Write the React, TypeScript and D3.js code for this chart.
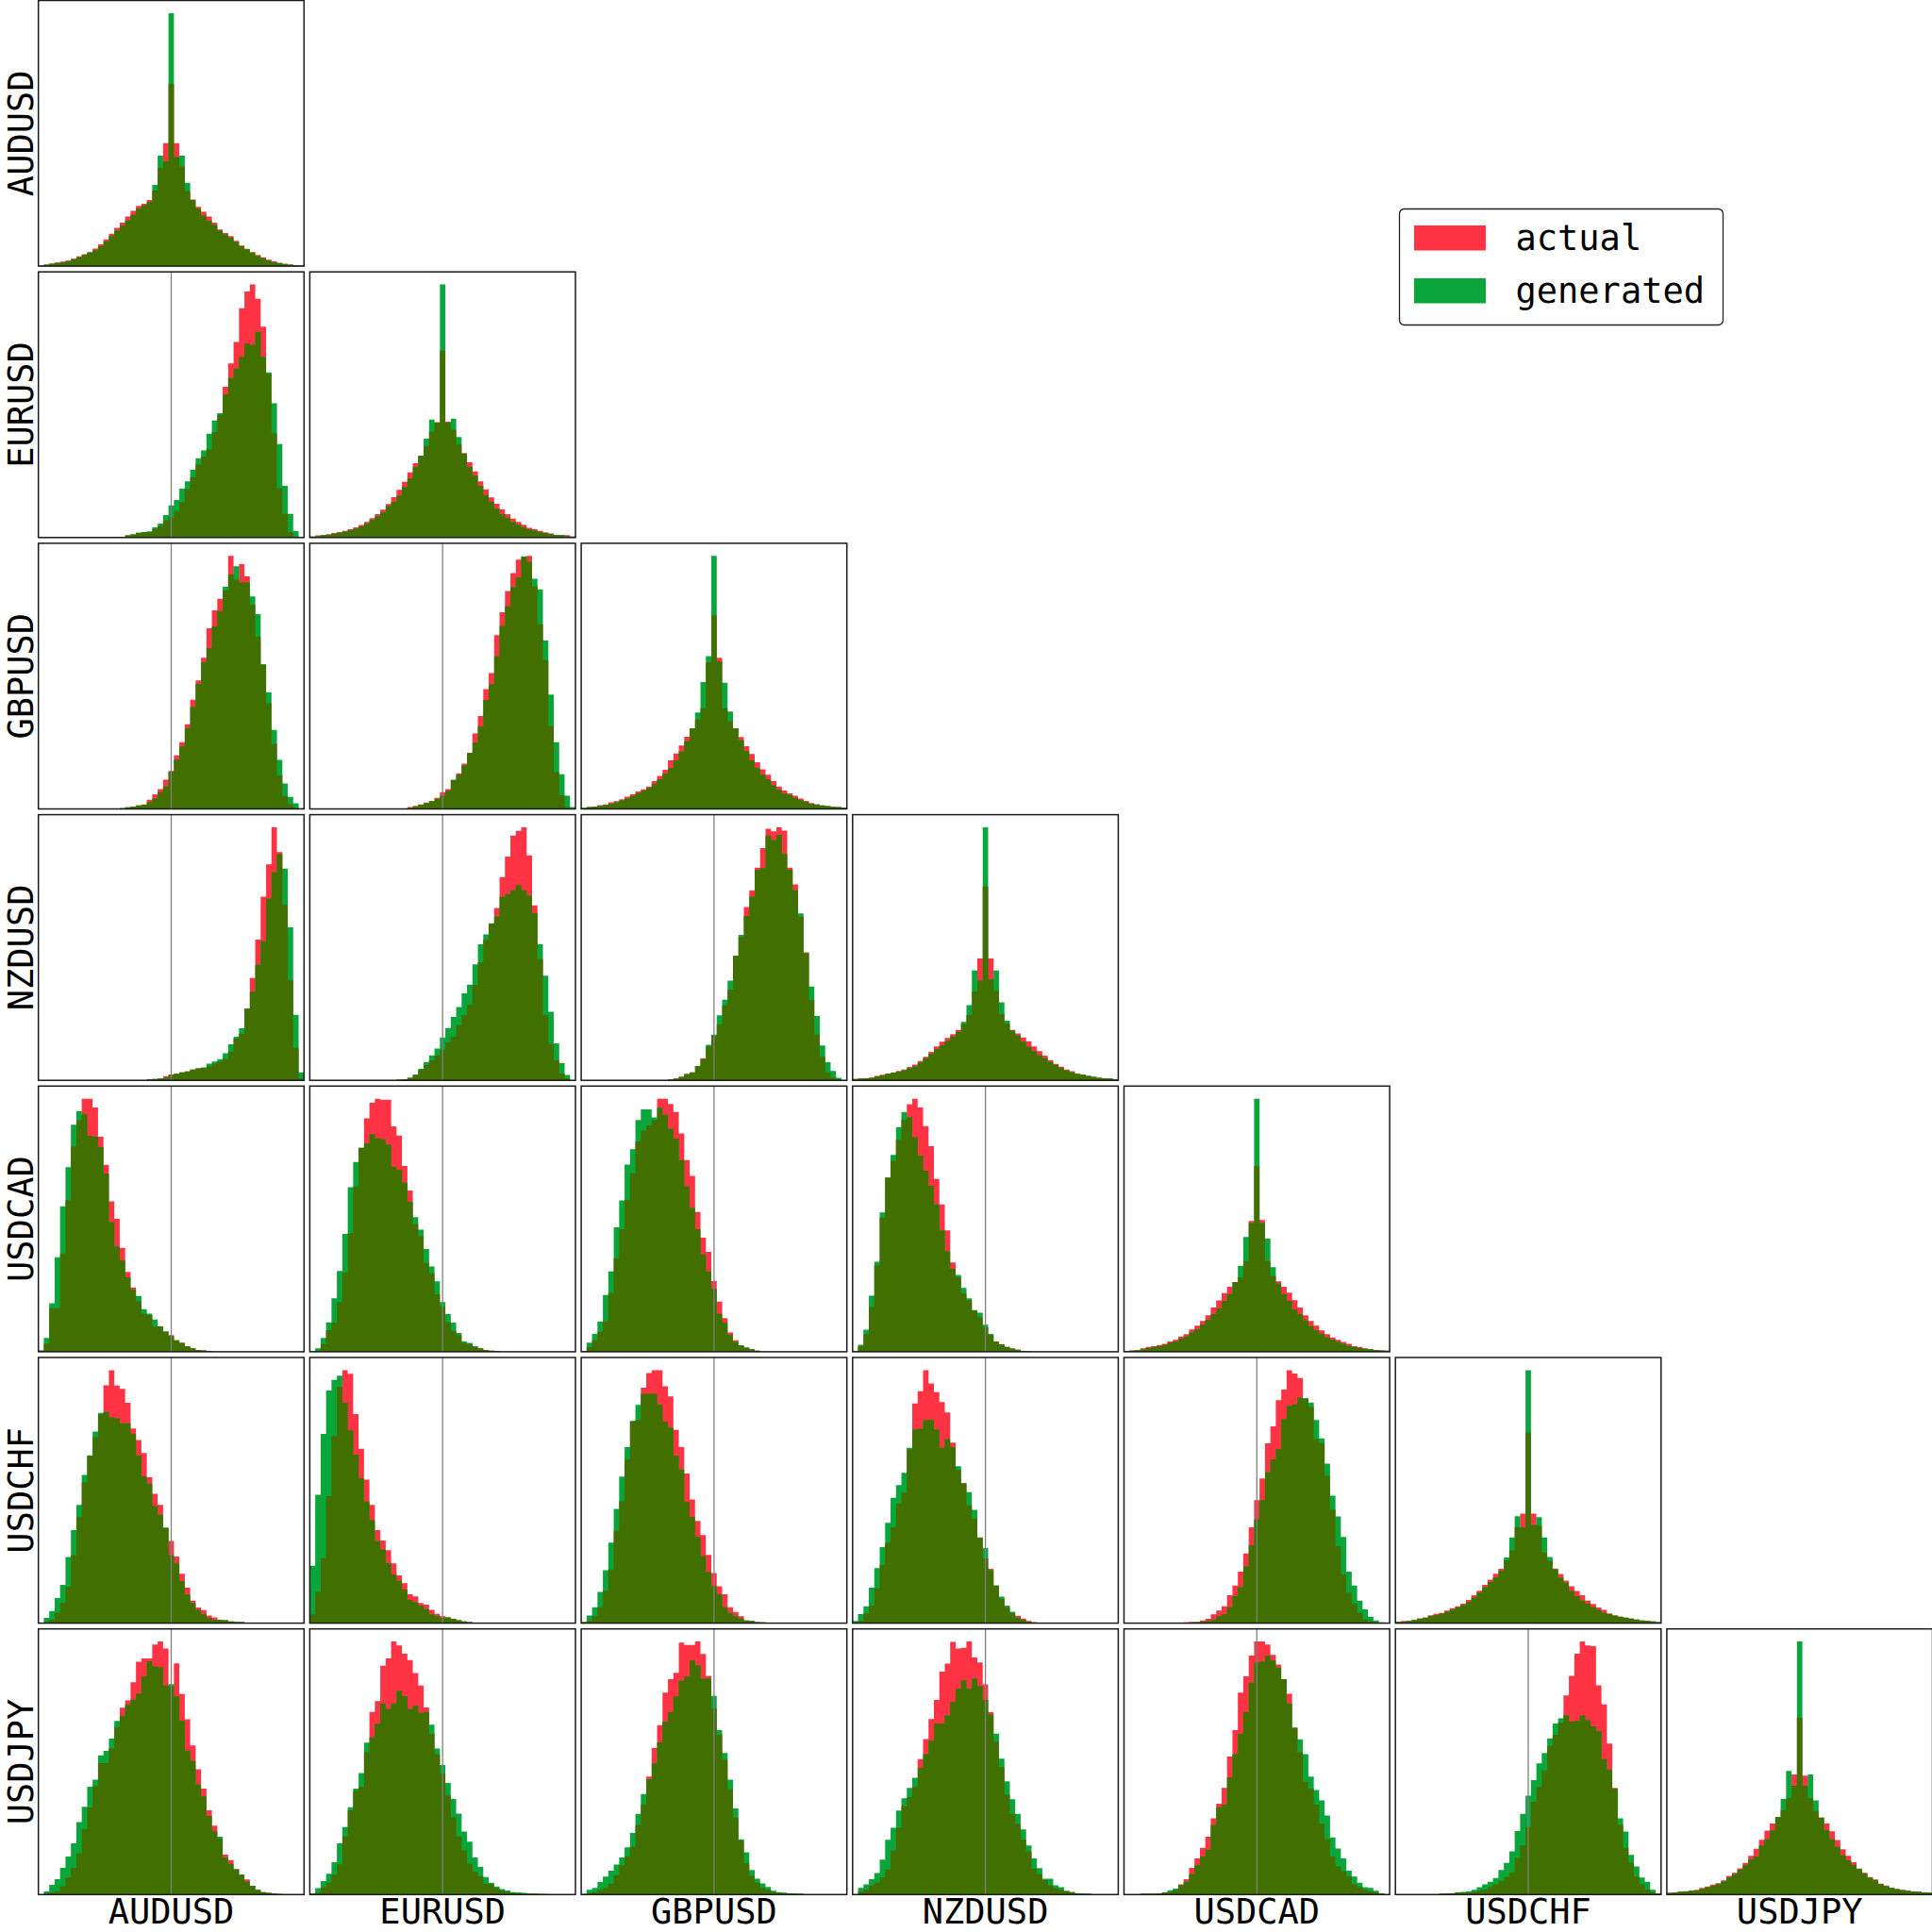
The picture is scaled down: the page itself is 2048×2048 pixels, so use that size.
import { useEffect, useRef } from 'react';
import * as d3 from 'd3';

// currency pairs, in grid order (rows top -> bottom, columns left -> right)
const PAIRS = ['AUDUSD', 'EURUSD', 'GBPUSD', 'NZDUSD', 'USDCAD', 'USDCHF', 'USDJPY'];
const SERIES = ['actual', 'generated'];
const BIN_COUNT = 49;

const COLORS: Record<string, string> = {
  actual: '#ff3344',
  generated: '#0aa63c',
  overlap: '#427000',
};

// bin heights (share of the panel height, %)
const AUDUSD_AUDUSD_actual = [0.2,0.6,0.9,1.3,1.7,2.1,2.8,3.7,4.5,5.3,6.6,8.2,10.1,12.2,14.4,16.4,18.7,20.8,22.7,23.5,24.9,28.5,36.9,46.3,68.6,46.3,37.5,28.2,25.1,22.3,20.5,18.7,16.4,13.8,12.5,11.3,9.5,7.8,6.5,5.3,4.2,3.3,2.4,1.8,1.2,0.8,0.6,0.4,0.2];
const AUDUSD_AUDUSD_generated = [0.2,0.6,0.9,1.3,1.4,1.9,2.6,3.3,4.2,5.1,6,7.5,9.3,11.3,13.4,15.3,17.2,19.3,21.7,22.9,24.1,30.6,41.6,39.5,95.3,41,41.6,31.4,24.9,21.7,19,17,15.5,13.4,11.9,10.8,9.1,7.5,6.3,5.1,3.8,3,2,1.4,1.2,0.8,0.6,0.4,0.2];

const EURUSD_AUDUSD_actual = [0,0,0,0,0,0,0,0,0,0,0,0,0,0,0.2,0.2,0.8,1.1,1.7,2.1,2,3.2,4.4,6.4,7.6,10,13.3,18.2,22.7,27.5,30.5,33.2,39.7,46.2,56.8,65.6,73.7,86.4,92.7,95.3,89.9,79.4,61.6,39.3,18.6,8.9,2,0.4,0.2];
const EURUSD_AUDUSD_generated = [0,0,0,0,0,0,0,0,0,0,0,0,0,0,0.2,0.2,0.8,1.3,1.9,2.1,2.3,3.8,5.3,8.5,12.1,14.1,18.4,21.2,25.5,29.9,32.8,39.1,44.1,46.8,53.9,60.1,63.6,68,73.1,72.5,77.5,68,62.2,50.6,35.2,19.5,8.9,2.4,0.2];
const EURUSD_EURUSD_actual = [0.4,0.8,0.9,1.3,1.7,2.1,2.5,3.1,3.8,4.7,5.9,7.3,8.8,10.5,12.6,15.2,18,21,24.5,28,30.8,34.5,39.8,43.5,70.4,43.6,40.5,35.1,31.8,28.4,24.9,21.2,18.1,15.1,12.7,10.6,8.8,7.1,5.9,4.8,3.7,3.1,2.5,2,1.4,1,0.9,0.9,0.4];
const EURUSD_EURUSD_generated = [0.4,0.5,0.9,1,1.4,1.8,2.2,2.8,3.3,4.2,5.2,6.6,7.9,9.4,11.8,13.4,15.7,19,22.3,26.5,30.8,37.2,44.4,43.3,95.3,43.3,44.8,37.9,31.5,26.6,23.3,19.4,16,13.4,10.9,8.8,7.5,5.9,4.8,3.8,3.1,2.6,2.1,1.7,1.4,1,0.9,0.5,0.4];

const GBPUSD_AUDUSD_actual = [0,0,0,0,0,0,0,0,0,0,0,0,0,0,0.1,0.3,0.5,0.9,1.3,1.7,3.5,5.5,7.5,11,14.3,20.2,25.2,32,41.2,48.5,57.1,68.2,75,79.3,82.4,95.5,86.5,92.4,87.8,77.1,65.1,54.3,39.8,24.5,12.7,4.8,1.7,0.4,0.1];
const GBPUSD_AUDUSD_generated = [0,0,0,0,0,0,0,0,0,0,0,0,0,0,0.1,0.3,0.7,0.9,1.3,1.6,2.6,3.9,6.3,8.5,14.1,18.6,23.6,30.5,38.5,47.2,55.4,60.7,68.9,74.7,83.9,88.5,91.6,85.5,85.5,80.2,73.5,54.7,44,29.8,18.5,9.6,4.5,2.1,0.3];
const GBPUSD_EURUSD_actual = [0,0,0,0,0,0,0,0,0,0,0,0,0,0,0,0,0,0.1,0.7,1.2,1.7,2.4,2.9,4.2,6.3,7.5,10.9,13.4,17.1,21.2,28.5,35,45.2,51.2,65.5,74.2,82.2,88.9,94,95,95.4,83.9,69.6,56.1,31.3,13.9,5.2,0.7,0.1];
const GBPUSD_EURUSD_generated = [0,0,0,0,0,0,0,0,0,0,0,0,0,0,0,0,0,0.1,0.4,0.9,1.6,2.2,2.9,3.7,5,6.8,10.9,12.8,16.4,21.2,25.1,31.1,41.1,47,57.5,69,76.4,83.6,87.3,95.2,93.2,86.8,82.8,63.5,43.1,25.2,13.1,5,0.7];
const GBPUSD_GBPUSD_actual = [0.4,0.7,0.9,1.4,1.7,2.5,2.9,3.7,4.6,5.5,6.6,7.4,8.5,10.5,12.5,14.8,18.4,21,24,27.3,30.5,33.8,38.1,55.5,73.2,57.2,38.1,33.2,30.5,27.2,23.7,20.8,17.7,15,12.9,10.5,8.5,7,5.9,5,3.9,3,2.2,1.7,1.3,1.1,0.8,0.7,0.5];
const GBPUSD_GBPUSD_generated = [0.4,0.7,0.9,1.2,1.4,2,2.5,3.2,3.9,4.9,5.9,6.8,7.9,9.5,11.2,13.4,15.5,18.4,21.7,25.6,30.5,36.5,48,57.8,95.7,55.8,47.7,36.8,30.5,26,21.9,18.4,15.4,12.9,11.2,8.9,7.2,5.9,5.3,4.2,3.3,2.6,2,1.7,1.3,1.1,0.8,0.7,0.5];

const NZDUSD_AUDUSD_actual = [0,0,0,0,0,0,0,0,0,0,0,0,0,0,0,0,0,0,0,0.1,0.4,0.5,0.7,1.6,2.2,2.5,3,3.4,4.1,4.5,4.7,5.2,6.3,7.1,8.1,10.7,15.7,17.5,27,38.5,53,69.2,81.4,95.3,86,66.1,37.7,12.2,0.7];
const NZDUSD_AUDUSD_generated = [0,0,0,0,0,0,0,0,0,0,0,0,0,0,0,0,0,0,0,0.1,0.4,0.5,0.7,1,2,2.5,3,3.4,4.1,4.5,4.9,6.3,7.1,8,10.2,13.6,16.4,19.6,27,33.4,43.5,52.4,68.5,78.3,85.2,79.8,57.6,24.7,3];
const NZDUSD_EURUSD_actual = [0,0,0,0,0,0,0,0,0,0,0,0,0,0,0,0,0.3,0.4,1,2,3.9,5.8,7.5,9.4,11.5,14.4,16.4,20.9,24.6,28.5,36,44.5,53,59,65,76.6,84.4,92.3,94.1,95.4,84.8,66,45.8,24.6,13.7,7.5,2.6,0.7,0.1];
const NZDUSD_EURUSD_generated = [0,0,0,0,0,0,0,0,0,0,0,0,0,0,0,0,0.2,0.4,1,2.2,4.3,6.9,9.4,12,16.2,19.7,23.9,27.6,32.8,36.1,43.7,51.3,55,59.2,61.8,69.2,70.2,71.7,73.6,71.7,69.6,63,51.3,39.5,25.9,13.9,6.5,2,0.1];
const NZDUSD_GBPUSD_actual = [0,0,0,0,0,0,0,0,0,0,0,0,0,0,0,0.1,0.3,0.8,1.4,2.4,3,5.4,8.3,12.7,16.8,21.1,28.2,34.2,46.9,53.9,65.3,71.6,80.1,87.5,94.8,93.8,95.3,94.1,80.1,73.8,61.6,48.2,30.3,17.2,8.9,3,1,0.3,0];
const NZDUSD_GBPUSD_generated = [0,0,0,0,0,0,0,0,0,0,0,0,0,0,0,0.1,0.3,0.5,1.2,2.4,3,5.4,8,13.4,17.2,24.5,30.4,37.6,46.9,54.8,61.9,69.2,79.2,79.9,92.2,90.5,92.5,85.3,79.3,71.6,62.9,47.9,35.3,24.2,13.1,6.8,3.5,1,0.1];
const NZDUSD_NZDUSD_actual = [0.5,0.7,0.8,1,1.7,2.1,2.5,2.9,3.5,4.1,5,5.9,7.3,8.9,10.7,12.8,14.5,16,17.4,19,21.1,24.6,33.4,45.9,72.9,45.9,33.6,24.9,21.4,19,17.6,16.1,14.7,12.8,11,9.3,7.6,6.2,5.1,4.1,3.4,2.5,2.1,1.7,1.3,1,0.8,0.7,0.4];
const NZDUSD_NZDUSD_generated = [0.5,0.7,0.8,1,1.4,1.8,2.5,2.9,3.3,3.8,4.5,5.2,6.6,8.3,10,11.8,13.1,14.8,16.5,18.3,22,28.3,41.3,37.5,95.2,38,41.3,29.4,22.4,18.7,16.8,14.5,12.6,10.9,9.4,8.3,6.9,5.8,4.7,3.7,3,2.5,2.1,1.7,1.3,1,0.8,0.7,0.4];

const USDCAD_AUDUSD_actual = [0.4,3,16.4,16.4,37,57,77.3,87.2,95.3,95.3,92,81,70.4,56.6,50.1,39.1,30.1,24.2,19,14.4,13.8,9.4,9.6,7.6,6.3,4.3,3.3,2.1,1.3,0.7,0.5,0.3,0,0,0,0,0,0,0,0,0,0,0,0,0,0,0,0,0];
const USDCAD_AUDUSD_generated = [0.5,5.2,18.3,35.6,54.8,69.5,85.5,90.7,89.4,81.3,81,77.1,67.1,48.8,39.6,34.3,28,23.3,21,16,14.4,12.1,9.6,7.6,5.9,4.3,3.3,2.1,1.3,0.7,0.5,0.3,0,0,0,0,0,0,0,0,0,0,0,0,0,0,0,0,0];
const USDCAD_EURUSD_actual = [0.1,0.4,2.9,8.1,11,18.7,29.8,44.6,62,76.7,87.8,93.7,95.2,94.8,94.8,84.8,81.3,69.9,60.7,48.1,43.5,33.4,29.5,21.6,17,11.1,7.9,6.3,3.3,2.9,2,1.3,0.7,0.4,0.3,0,0,0,0,0,0,0,0,0,0,0,0,0,0];
const USDCAD_EURUSD_generated = [0.1,1.3,5.2,11.1,20.1,30.4,44.3,61.9,71.4,76.7,78.4,81.9,80.3,79.9,78,69.5,68.5,63.6,56.4,50.6,45.9,38.7,32.1,26.5,18.7,14.2,11,7.1,3.9,3.3,2,1.3,0.7,0.4,0.3,0,0,0,0,0,0,0,0,0,0,0,0,0,0];
const USDCAD_GBPUSD_actual = [0,1.7,4.3,7.6,11.5,22,35,46,57,67,79,83,85,87,95,95,93,90,82,72,66,52.5,42.8,37.5,26.5,18.8,12.6,7.2,4.3,2.4,1.6,0.9,0.4,0,0,0,0,0,0,0,0,0,0,0,0,0,0,0,0];
const USDCAD_GBPUSD_generated = [0.3,3.4,6.7,11.3,21.3,30.2,46.7,56.8,70.3,76,87,91,91,88,91.6,89,83.7,80,72,62,54,46,36.5,30.2,23.6,14.2,10.9,6.3,3.7,2.4,1.6,0.9,0.4,0,0,0,0,0,0,0,0,0,0,0,0,0,0,0,0];
const USDCAD_NZDUSD_actual = [0.1,2.1,6.6,16.8,32.5,50.5,65.6,71.9,79.8,87.4,93.2,95.3,92,85,77.4,65.1,55.5,45.7,33.6,28,22,19.4,15.5,12.9,9.2,6.3,3.9,2.8,1.8,1.2,0.8,0.3,0.1,0,0,0,0,0,0,0,0,0,0,0,0,0,0,0,0];
const USDCAD_NZDUSD_generated = [0.1,2.6,8.3,21.1,33.9,52.5,65.6,74.1,84.6,90.3,88.3,80.8,73.9,68.2,62.5,55.5,45.7,37.8,31.2,28.9,24,20.1,15.7,14.7,10.2,6.7,3.9,2.8,1.8,1.2,0.8,0.3,0.1,0,0,0,0,0,0,0,0,0,0,0,0,0,0,0,0];
const USDCAD_USDCAD_actual = [0.2,0.5,0.6,1.3,1.8,2.1,2.5,3,3.9,4.5,5.7,6.6,8.4,9.8,11.6,13.7,16.6,19.3,22,24.4,26.2,27.9,34.1,49.1,69.7,49.5,34.1,28.5,26.4,24.4,22.2,19.4,16.6,13.7,11.6,9.8,8,6.6,5.4,4.5,3.7,3,2.1,1.8,1.3,0.9,0.7,0.5,0.4];
const USDCAD_USDCAD_generated = [0.2,0.4,0.6,0.9,1.4,1.8,2.1,2.5,3.3,3.9,4.9,5.7,7.2,8.4,10.2,12,14.1,16.3,19.1,21.7,26.2,32.3,43.1,48.3,95,48.3,42.5,31.8,25.6,21.7,19.1,15.9,14.1,11.7,9.6,8,6.6,5.4,4.5,3.7,3,2.2,1.8,1.4,1.1,0.9,0.7,0.5,0.4];

const USDCHF_AUDUSD_actual = [0.1,0.4,1.3,3.9,7.6,13.8,25.6,40.1,53.2,63.3,70.3,79,90,95.7,89.9,88.6,83.4,73.6,69.3,64.4,55.2,48.9,44.7,36.1,31.1,25.2,18.7,13.4,8.5,5.9,4.9,2.9,2.2,1.3,1.1,0.7,0.5,0.4,0.2,0.1,0,0,0,0,0,0,0,0,0];
const USDCHF_AUDUSD_generated = [0.1,2,4.6,9.5,14.5,25,35.2,44.7,56.1,63.5,72.5,79.5,79.9,77.8,77.5,75.6,75.6,71.6,63.5,55.5,52.8,44.3,41,36.1,25.6,22.6,15.8,10.8,7.6,5,3.3,2,1.3,1.3,1.1,0.7,0.5,0.4,0.2,0.1,0,0,0,0,0,0,0,0,0];
const USDCHF_EURUSD_actual = [3.3,11.8,24.6,48,70.7,89.4,95.7,94.3,79.1,66,54.3,44.7,35.2,31.3,27.6,22.6,18.1,15.1,10.9,10.1,7.6,7,5,3.5,2.6,2.2,1.6,1.1,0.7,0.4,0.2,0,0,0,0,0,0,0,0,0,0,0,0,0,0,0,0,0,0];
const USDCHF_EURUSD_generated = [21.7,48.6,71.6,88,92,93.6,83.4,72.9,63.7,54.8,46,39,31.1,27.9,22.6,18.4,16,12.7,8.8,7.9,6.6,5.3,3.3,2.6,2,2.2,1.6,1.1,0.7,0.4,0.2,0,0,0,0,0,0,0,0,0,0,0,0,0,0,0,0,0,0];
const USDCHF_GBPUSD_actual = [0.4,0.8,2.6,6,12.2,20.2,34.8,45.9,61.7,76.1,76.5,88.7,94.2,95.3,95.3,89.2,85.4,72.8,66.3,56.4,46.6,38.5,33.2,25.7,18.9,13.9,10.9,6,4.2,2.6,1,0.8,0.4,0.3,0,0,0,0,0,0,0,0,0,0,0,0,0,0,0];
const USDCHF_GBPUSD_generated = [0.4,2.9,6,11.8,19.9,30.3,43,55.2,66.3,76.1,82.2,86.4,86.4,86.4,82.2,75.9,73.6,63,57.9,45.7,40,32.5,25.3,19.2,13.9,10.9,6,3.9,2.6,1.7,1,0.8,0.4,0.3,0,0,0,0,0,0,0,0,0,0,0,0,0,0,0];
const USDCHF_NZDUSD_actual = [0.1,0.8,3.7,6.6,13.1,22,30.2,36,45,49.2,65.4,82.7,87.4,95.3,90.3,87,83.3,79.4,68,57.7,52.8,44.4,39.4,32.2,24.4,20.5,14.2,9.2,6,3.7,2.8,1.7,0.8,0.3,0.1,0,0,0,0,0,0,0,0,0,0,0,0,0,0];
const USDCHF_NZDUSD_generated = [0.8,3.4,6.3,13.4,20.7,28.6,37.8,47.2,52,56.6,66,73,73.2,76.5,76.5,73,66,69.3,66.3,59.1,52.5,49.3,42.7,32.3,28.3,19.9,14.2,10,6.6,4.3,2.1,1.3,0.5,0.3,0.1,0,0,0,0,0,0,0,0,0,0,0,0,0,0];
const USDCHF_USDCAD_actual = [0,0,0,0,0,0,0,0,0,0.1,0.1,0.3,0.5,0.5,1,1.6,3.3,4.7,6.3,10.5,14.2,19.4,26.2,36.1,46.3,54.5,67.7,74.1,84,88,95.3,94,92.3,84.4,81.4,69.3,67.7,55.5,42.8,28.9,18.4,11.5,7.3,3.9,1.4,0.7,0.3,0.1,0];
const USDCHF_USDCAD_generated = [0,0,0,0,0,0,0,0,0,0.1,0.1,0.1,0.1,0.3,0.5,0.8,1.3,2.6,3.4,6,10.2,13.5,21.4,29.3,39.1,46.3,56.8,61.7,65.6,76.8,81.8,82.4,85,84.8,83.1,76.5,69.6,60.1,48,40.2,32.5,19.4,14.2,8.5,5.2,2.4,1,0.3,0];
const USDCHF_USDCHF_actual = [0.5,0.8,0.8,1.2,1.7,2.1,3,3.5,3.9,4.7,5.6,6.3,7.3,8.7,10.5,12.2,14.4,16.4,18.6,20.5,23.6,27.3,36.1,41.3,71.7,41.3,36.7,26.6,23.4,20.6,18.5,16,13.9,12.1,10.5,8.5,7.2,5.9,5,3.7,3,2.4,2.1,1.7,1.4,1,0.8,0.7,0.4];
const USDCHF_USDCHF_generated = [0.5,0.4,0.8,1.2,1.7,2.1,2.6,3.1,3.5,4.2,5,5.9,6.8,8,9.6,11.5,13.5,15.5,17.3,19.8,24.7,32.3,40.3,36.1,95.3,36.9,39.9,32.3,24.9,20.3,17.2,15.2,12.1,10.2,8.5,7.3,6,5,3.9,3.4,2.8,2.4,2.1,1.7,1.4,1,0.8,0.7,0.4];

const USDJPY_AUDUSD_actual = [0.1,0.4,0.8,1.2,3,6.3,10.1,15.5,24.6,32.8,40.8,49.5,49.5,55,63.1,70.4,73.1,80,87.7,88.9,88.9,94.2,95.3,92.7,78.5,87.1,75.5,66,56.2,47.2,39.9,31.7,26,21.1,15,13,9.5,7.5,5.7,3.3,1.8,0.9,0.6,0.4,0.2,0.1,0,0,0];
const USDJPY_AUDUSD_generated = [0.1,1.2,3.7,5.8,10.1,14.3,19.3,27.3,33.1,40.6,43.3,52.4,54.1,58.7,65.4,67.2,71.4,73.4,75.7,82.2,87.9,85.9,85.6,78.7,79.3,74.6,65.4,54.2,50.3,41.4,37,29.6,23.8,21.8,14,11.6,9.5,7.5,4.9,3.3,1.8,0.9,0.6,0.4,0.2,0.1,0,0,0];
const USDJPY_EURUSD_actual = [0.4,0.6,2.7,4.5,7.5,11.4,21.9,31.7,39,40.6,53.6,68.8,72.9,86.2,88.9,95.3,93.8,90.7,88.3,83.4,78.7,70.5,60.5,52.8,45.6,37.3,29.1,21.9,16.6,11.6,8.6,6.9,4.1,3.9,2.4,1.5,0.9,0.6,0.4,0.3,0.3,0.2,0.2,0.1,0.1,0,0,0,0];
const USDJPY_EURUSD_generated = [0.4,2.4,5.1,7.8,12.2,19.3,25.4,32.9,39.9,45.8,57.2,59.2,64.3,72,69.8,72,76.7,74.7,69.8,71.1,68.4,68.8,64,55,48.8,42,36,30.5,23.7,19.9,14,10.4,6.6,4.5,3,2.1,1.5,0.9,0.8,0.6,0.4,0.4,0.2,0.2,0.1,0,0,0,0];
const USDJPY_GBPUSD_actual = [0.2,0.5,0.8,1.6,2.5,4.1,7.3,11,14.3,18,26.1,33.9,44.4,55.2,63.8,76.1,81.1,83.5,94.9,94,94,95.3,90.6,82.4,70,60.2,50.7,39.6,29,20.4,11.7,7.1,4.5,2.5,1.8,0.9,0.6,0.5,0.4,0.3,0.2,0,0,0,0,0,0,0,0];
const USDJPY_GBPUSD_generated = [0.2,1.8,2.5,4.7,6.8,9,11.3,14,17.8,23.2,30.4,37.9,43.4,49.4,57.3,65.1,68.7,74.6,80.5,82.2,88.2,86.4,81.4,81.4,74.8,61.9,53.3,43.3,32.4,20.8,15.9,9.3,6,4.2,2.9,1.4,0.9,0.7,0.5,0.4,0.3,0,0,0,0,0,0,0,0];
const USDJPY_NZDUSD_actual = [0.1,1,1.8,3.5,4.5,6.4,9.4,16.5,25.2,33.3,36.6,40.5,51,58.6,66.1,73.3,84,87,95.2,92.7,92.9,95.3,89.3,87.4,79.2,68.7,57.5,48,37.6,30.4,26.7,20.6,16.3,9.7,7.7,5.4,3.5,2.5,1.8,1.2,0.9,0.5,0.4,0.3,0,0,0,0,0];
const USDJPY_NZDUSD_generated = [0.1,2.5,3.8,5.8,8.1,13.2,20.6,25.2,31.6,36.3,40.2,44,47.7,52.9,57.9,64.4,64.4,67.4,72.6,77.6,80.7,77.5,81.4,78.5,73.3,67.8,60.6,51.2,42.7,35.9,30.4,24.5,18.5,13.6,10,6,6,3.5,2.8,1.4,0.9,0.5,0.4,0.3,0,0,0,0,0];
const USDJPY_USDCAD_actual = [0,0,0,0.3,0.3,0.3,0.5,0.8,0.9,1.6,3.8,5.8,10.1,13.6,17.6,21.8,28.7,34.2,40.2,52,61.9,76.1,82.2,90,95.3,95.3,94.2,90.3,86.6,81.1,75.6,62.8,53.6,42.5,39.8,33.9,26.7,20.8,14.3,10.6,8.8,6.8,3.8,2.8,1.8,1.2,0.8,0.5,0];
const USDJPY_USDCAD_generated = [0,0,0,0.3,0.3,0.3,0.5,0.8,1.6,2.2,3.5,4.8,7.7,11,14.3,16.9,26.1,32.9,33.9,44.2,52.9,60.6,68.7,79.8,87.3,87.7,90,88.1,85.5,81.1,72,62.8,58.5,52.9,44.4,39.4,35.5,29.8,21.5,17.3,13.6,9,6.8,4.5,2.8,2.5,1.4,0.5,0];
const USDJPY_USDCHF_actual = [0,0,0,0,0,0,0,0,0.3,0.4,0.5,0.8,0.6,0.7,0.9,1.4,1.8,2.8,3.8,5.1,6.7,8.4,13.9,18.5,25.4,34.9,40.5,46.7,56,60.2,64.7,75,82.4,90.7,95.3,93.8,93.6,78.8,71.6,56.9,40.2,26.3,17.6,11.9,6.8,3.8,1.8,0.8,0.5];
const USDJPY_USDCHF_generated = [0,0,0,0,0,0,0,0,0.3,0.4,0.5,0.8,1,1.2,1.8,2.8,3.8,4.8,6.2,9.3,11.9,16.3,23.9,30.4,37.2,43.1,49.4,53.3,58.8,64.4,66.4,67.4,65.1,65.4,67.4,65.7,63.4,61.5,51,47.1,39.8,28.7,23.7,14.9,10.6,6.4,4.8,1.8,0.5];
const USDJPY_USDJPY_actual = [0.6,0.8,1.1,1.3,1.4,1.8,2.5,3,3.7,4.3,5.3,7,8.2,9.9,11.9,14.6,17.2,20.6,24,26.7,29,31.7,36.2,45.1,66.4,44.7,36.2,31.4,28.9,26.7,23.8,20.5,17,14.6,12.2,9.8,8.2,6.6,5.7,4.1,3.4,2.5,2.1,1.7,1.4,1.2,1.1,0.8,0.7];
const USDJPY_USDJPY_generated = [0.6,0.8,1.1,1.2,1.4,1.5,2.1,2.7,3.3,3.9,4.9,6.4,7.7,9.3,11,13.1,14.3,18.5,20.8,24.1,29.2,35.9,46.5,40.9,95.1,40.9,45.1,35.4,28.9,24.1,20.8,17.9,14.7,12.9,11.1,9.6,7.9,6.3,5.3,3.9,3.1,2.5,2.1,1.7,1.4,1.2,1.1,0.8,0.7];

interface Histogram {
  row: string;
  col: string;
  actual: number[];
  generated: number[];
}

const histograms: Histogram[] = [
  { row: 'AUDUSD', col: 'AUDUSD', actual: AUDUSD_AUDUSD_actual, generated: AUDUSD_AUDUSD_generated },
  { row: 'EURUSD', col: 'AUDUSD', actual: EURUSD_AUDUSD_actual, generated: EURUSD_AUDUSD_generated },
  { row: 'EURUSD', col: 'EURUSD', actual: EURUSD_EURUSD_actual, generated: EURUSD_EURUSD_generated },
  { row: 'GBPUSD', col: 'AUDUSD', actual: GBPUSD_AUDUSD_actual, generated: GBPUSD_AUDUSD_generated },
  { row: 'GBPUSD', col: 'EURUSD', actual: GBPUSD_EURUSD_actual, generated: GBPUSD_EURUSD_generated },
  { row: 'GBPUSD', col: 'GBPUSD', actual: GBPUSD_GBPUSD_actual, generated: GBPUSD_GBPUSD_generated },
  { row: 'NZDUSD', col: 'AUDUSD', actual: NZDUSD_AUDUSD_actual, generated: NZDUSD_AUDUSD_generated },
  { row: 'NZDUSD', col: 'EURUSD', actual: NZDUSD_EURUSD_actual, generated: NZDUSD_EURUSD_generated },
  { row: 'NZDUSD', col: 'GBPUSD', actual: NZDUSD_GBPUSD_actual, generated: NZDUSD_GBPUSD_generated },
  { row: 'NZDUSD', col: 'NZDUSD', actual: NZDUSD_NZDUSD_actual, generated: NZDUSD_NZDUSD_generated },
  { row: 'USDCAD', col: 'AUDUSD', actual: USDCAD_AUDUSD_actual, generated: USDCAD_AUDUSD_generated },
  { row: 'USDCAD', col: 'EURUSD', actual: USDCAD_EURUSD_actual, generated: USDCAD_EURUSD_generated },
  { row: 'USDCAD', col: 'GBPUSD', actual: USDCAD_GBPUSD_actual, generated: USDCAD_GBPUSD_generated },
  { row: 'USDCAD', col: 'NZDUSD', actual: USDCAD_NZDUSD_actual, generated: USDCAD_NZDUSD_generated },
  { row: 'USDCAD', col: 'USDCAD', actual: USDCAD_USDCAD_actual, generated: USDCAD_USDCAD_generated },
  { row: 'USDCHF', col: 'AUDUSD', actual: USDCHF_AUDUSD_actual, generated: USDCHF_AUDUSD_generated },
  { row: 'USDCHF', col: 'EURUSD', actual: USDCHF_EURUSD_actual, generated: USDCHF_EURUSD_generated },
  { row: 'USDCHF', col: 'GBPUSD', actual: USDCHF_GBPUSD_actual, generated: USDCHF_GBPUSD_generated },
  { row: 'USDCHF', col: 'NZDUSD', actual: USDCHF_NZDUSD_actual, generated: USDCHF_NZDUSD_generated },
  { row: 'USDCHF', col: 'USDCAD', actual: USDCHF_USDCAD_actual, generated: USDCHF_USDCAD_generated },
  { row: 'USDCHF', col: 'USDCHF', actual: USDCHF_USDCHF_actual, generated: USDCHF_USDCHF_generated },
  { row: 'USDJPY', col: 'AUDUSD', actual: USDJPY_AUDUSD_actual, generated: USDJPY_AUDUSD_generated },
  { row: 'USDJPY', col: 'EURUSD', actual: USDJPY_EURUSD_actual, generated: USDJPY_EURUSD_generated },
  { row: 'USDJPY', col: 'GBPUSD', actual: USDJPY_GBPUSD_actual, generated: USDJPY_GBPUSD_generated },
  { row: 'USDJPY', col: 'NZDUSD', actual: USDJPY_NZDUSD_actual, generated: USDJPY_NZDUSD_generated },
  { row: 'USDJPY', col: 'USDCAD', actual: USDJPY_USDCAD_actual, generated: USDJPY_USDCAD_generated },
  { row: 'USDJPY', col: 'USDCHF', actual: USDJPY_USDCHF_actual, generated: USDJPY_USDCHF_generated },
  { row: 'USDJPY', col: 'USDJPY', actual: USDJPY_USDJPY_actual, generated: USDJPY_USDJPY_generated },
];

const FONT = "'DejaVu Sans Mono', monospace";

export default function App() {
  const svgRef = useRef<SVGSVGElement>(null);

  useEffect(() => {
    if (!svgRef.current) return;
    document.body.style.margin = '0';

    const svg = d3.select(svgRef.current);
    svg.selectAll('*').remove();

    // grid of panels
    const gridX = d3.scaleBand<string>().domain(PAIRS).range([40.7, 2048.5]).paddingInner(0.0212);
    const gridY = d3.scaleBand<string>().domain(PAIRS).range([0.5, 2008.3]).paddingInner(0.0212);
    const bw = gridX.bandwidth();
    const bh = gridY.bandwidth();

    const defs = svg.append('defs');

    histograms.forEach((h, k) => {
      const x0 = gridX(h.col) as number;
      const y0 = gridY(h.row) as number;

      const x = d3.scaleLinear().domain([0, BIN_COUNT]).range([x0, x0 + bw]);
      const top = (d3.max([...h.actual, ...h.generated]) || 1) * 1.05;
      const y = d3.scaleLinear().domain([0, top]).range([y0 + bh, y0]);

      const area = d3.area<number>()
        .x((_, i) => x(i))
        .y0(y(0))
        .y1(d => y(d))
        .curve(d3.curveStepAfter);
      const stepped = (v: number[]) => area([...v, v[v.length - 1]]) || '';

      const clipId = `overlap-${k}`;
      defs.append('clipPath').attr('id', clipId)
        .append('path').attr('d', stepped(h.generated));

      const g = svg.append('g');
      g.append('path').attr('d', stepped(h.actual)).attr('fill', COLORS.actual);
      g.append('path').attr('d', stepped(h.generated)).attr('fill', COLORS.generated);
      // where both histograms overlap
      g.append('path')
        .attr('d', stepped(h.actual))
        .attr('fill', COLORS.overlap)
        .attr('clip-path', `url(#${clipId})`);

      if (h.row !== h.col) {
        g.append('line')
          .attr('x1', x(BIN_COUNT / 2)).attr('x2', x(BIN_COUNT / 2))
          .attr('y1', y0).attr('y2', y0 + bh)
          .attr('stroke', '#808080')
          .attr('stroke-width', 1.3);
      }

      g.append('rect')
        .attr('x', x0).attr('y', y0)
        .attr('width', bw).attr('height', bh)
        .attr('fill', 'none')
        .attr('stroke', '#1a1a1a')
        .attr('stroke-width', 1.5);
    });

    // row labels (left)
    svg.append('g').selectAll('text')
      .data(PAIRS)
      .enter().append('text')
      .attr('transform', d => `translate(35,${(gridY(d) as number) + bh / 2}) rotate(-90)`)
      .attr('text-anchor', 'middle')
      .style('font-family', FONT)
      .style('font-size', '37px')
      .style('fill', '#000')
      .text(d => d);

    // column labels (bottom)
    svg.append('g').selectAll('text')
      .data(PAIRS)
      .enter().append('text')
      .attr('x', d => (gridX(d) as number) + bw / 2)
      .attr('y', 2038.5)
      .attr('text-anchor', 'middle')
      .style('font-family', FONT)
      .style('font-size', '37px')
      .style('fill', '#000')
      .text(d => d);

    // legend
    const legend = svg.append('g').attr('transform', 'translate(1483.5,221.5)');
    legend.append('rect')
      .attr('width', 343)
      .attr('height', 123)
      .attr('rx', 5)
      .attr('fill', '#fff')
      .attr('stroke', '#222')
      .attr('stroke-width', 1.3);

    const items = legend.selectAll('.legend-item')
      .data(SERIES)
      .enter().append('g')
      .attr('class', 'legend-item')
      .attr('transform', (d, i) => `translate(0,${i * 56})`);

    items.append('rect')
      .attr('x', 15.5)
      .attr('y', 17.5)
      .attr('width', 76)
      .attr('height', 26.5)
      .attr('fill', d => COLORS[d]);

    items.append('text')
      .attr('x', 123)
      .attr('y', 43.5)
      .style('font-family', FONT)
      .style('font-size', '37px')
      .style('fill', '#000')
      .text(d => d);
  }, []);

  return (
    <svg
      ref={svgRef}
      width={2048}
      height={2048}
      style={{ position: 'absolute', left: 0, top: 0, display: 'block', background: '#fff' }}
    />
  );
}
